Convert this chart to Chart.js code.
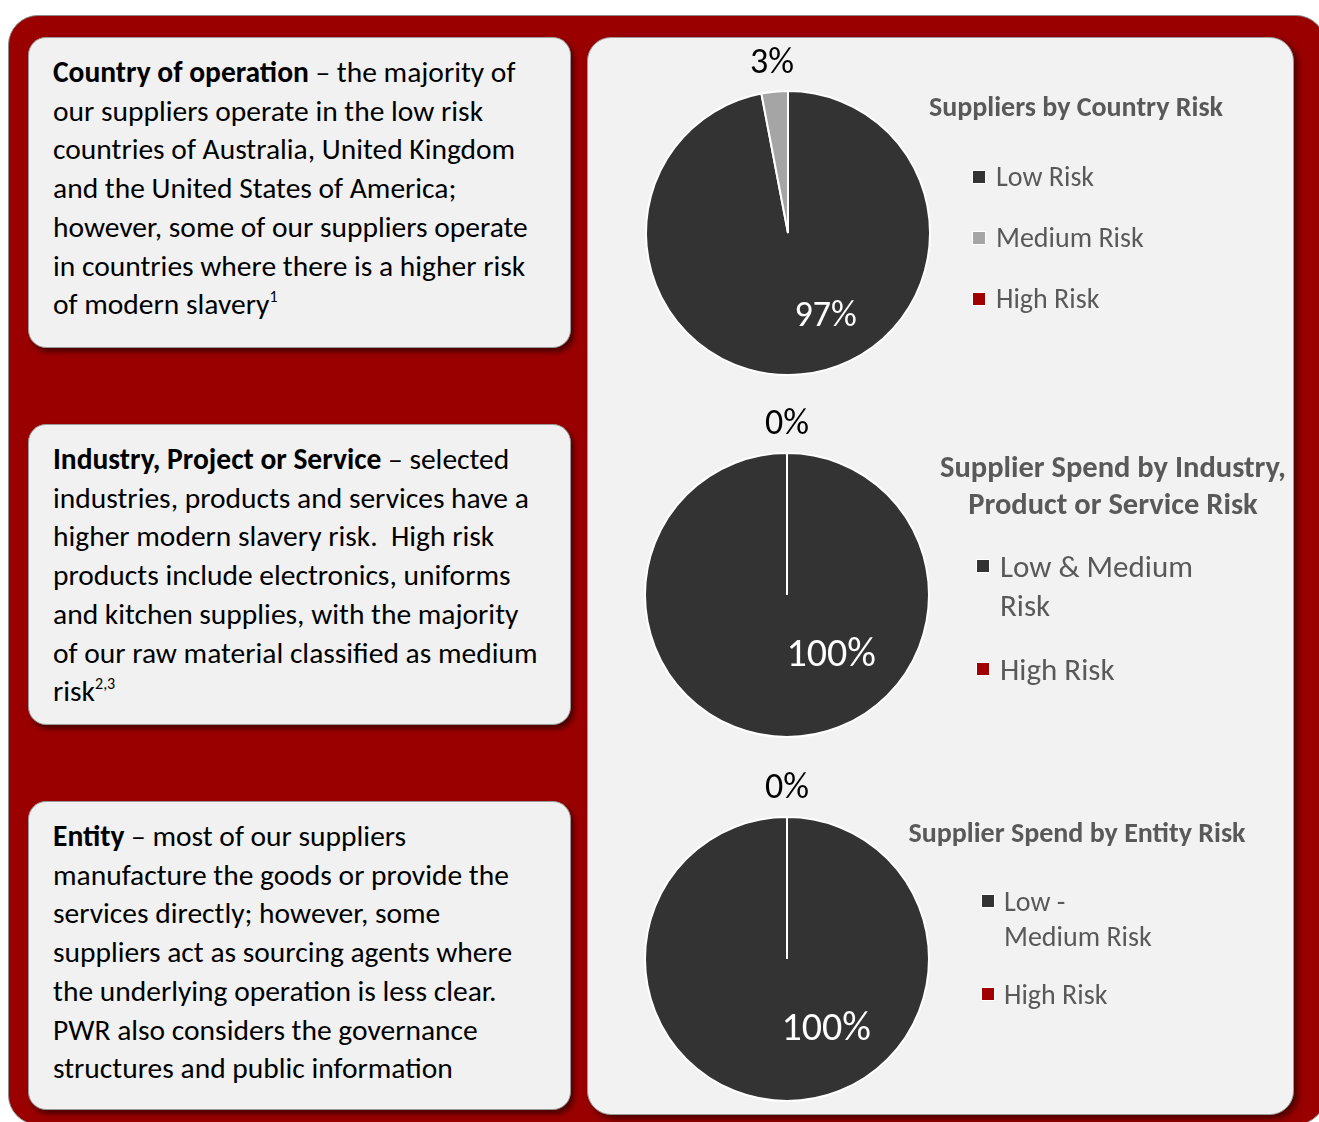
<!DOCTYPE html>
<html>
<head>
<meta charset="utf-8">
<script src="https://cdn.jsdelivr.net/npm/chart.js@4.4.1/dist/chart.umd.min.js"></script>
<style>
html,body{margin:0;padding:0;background:#fff}
#page{position:relative;width:1319px;height:1122px;overflow:hidden;font-family:Calibri,Carlito,Lato,sans-serif}
#frame{position:absolute;left:8px;top:15px;width:1318px;height:1110px;background:#9a0000;border:1px solid #8a8a8a;border-radius:30px;box-sizing:border-box}
.box{position:absolute;left:28px;width:543px;background:#f1f1f1;border:1px solid #9a9a9a;border-radius:18px;box-sizing:border-box;
 box-shadow:3px 4px 5px rgba(50,0,0,.75);padding:15px 0 0 24px;font-size:29.5px;line-height:38.7px;color:#000;white-space:nowrap}
.box b{font-weight:700}
.box sup{font-size:16px;line-height:0;vertical-align:12px}
#panel{position:absolute;left:587px;top:37px;width:707px;height:1078px;background:#f2f2f2;border:1px solid #9a9a9a;border-radius:24px;box-sizing:border-box;
 box-shadow:4px 4px 6px rgba(50,0,0,.75)}
canvas.pie{position:absolute}
.legend{position:absolute;color:#595959}
.legend .title{font-weight:700;text-align:center}
.legend .item{display:flex;align-items:flex-start}
.legend .mark{flex:none;width:12px;height:12px;border:1px solid #fff;box-sizing:content-box}
.legend .txt{white-space:normal}
</style>
</head>
<body>
<div id="page">
<div id="frame"></div>

<div class="box" style="top:37px;height:311px"><b>Country of operation</b> – the majority of<br>our suppliers operate in the low risk<br>countries of Australia, United Kingdom<br>and the United States of America;<br>however, some of our suppliers operate<br>in countries where there is a higher risk<br>of modern slavery<sup>1</sup></div>

<div class="box" style="top:424px;height:301px"><b>Industry, Project or Service</b> – selected<br>industries, products and services have a<br>higher modern slavery risk.&nbsp; High risk<br>products include electronics, uniforms<br>and kitchen supplies, with the majority<br>of our raw material classified as medium<br>risk<sup>2,3</sup></div>

<div class="box" style="top:801px;height:309px"><b>Entity</b> – most of our suppliers<br>manufacture the goods or provide the<br>services directly; however, some<br>suppliers act as sourcing agents where<br>the underlying operation is less clear.<br>PWR also considers the governance<br>structures and public information</div>

<div id="panel"></div>

<canvas class="pie" id="pie1" width="400" height="400" style="left:588px;top:33px"></canvas>
<canvas class="pie" id="pie2" width="400" height="400" style="left:587px;top:395px"></canvas>
<canvas class="pie" id="pie3" width="400" height="400" style="left:587px;top:759px"></canvas>

<div class="legend" id="leg1"></div>
<div class="legend" id="leg2"></div>
<div class="legend" id="leg3"></div>
</div>

<script>
// chart data
const title1='Suppliers by Country Risk'
const categories1=['Low Risk','Medium Risk','High Risk']
const values1=[97,3,0]
const colours1=['#333333','#a5a5a5','#a00000']

const title2='Supplier Spend by Industry, Product or Service Risk'
const categories2=['Low & Medium Risk','High Risk']
const values2=[100,0]
const colours2=['#333333','#a00000']

const title3='Supplier Spend by Entity Risk'
const categories3=['Low - Medium Risk','High Risk']
const values3=[100,0]
const colours3=['#333333','#a00000']

// percentage labels on the slices
const pieLabels={
id:'pieLabels',
afterDatasetsDraw(chart,args,opts){
const ctx=chart.ctx
const data=chart.data.datasets[0].data
const total=data.reduce((a,b)=>a+b,0)
const meta=chart.getDatasetMeta(0)
meta.data.forEach((arc,i)=>{
let v=data[i]
if(v===0 && !opts.showZero) return
let p=arc.getProps(['x','y','startAngle','endAngle','outerRadius'],true)
let txt=Math.round(v/total*100)+'%'
let lx,ly
ctx.save()
if(v/total>0.5){
let a=-Math.PI/2+opts.insideAngle*Math.PI/180
lx=p.x+Math.cos(a)*p.outerRadius*opts.insideDist
ly=p.y+Math.sin(a)*p.outerRadius*opts.insideDist
ctx.fillStyle='#ffffff'
ctx.font=opts.insideSize+'px Calibri, Carlito, Lato, sans-serif'
}else{
let mid=(p.startAngle+p.endAngle)/2
lx=p.x+Math.cos(mid)*(p.outerRadius+28)
ly=p.y+Math.sin(mid)*(p.outerRadius+28)
ctx.fillStyle='#000000'
ctx.font='36px Calibri, Carlito, Lato, sans-serif'
}
ctx.textAlign='center'
ctx.textBaseline='middle'
ctx.fillText(txt,lx,ly)
ctx.restore()
})
}
}

function makePie(id,labels,values,colours,lab){
return new Chart(document.getElementById(id),{
type:'pie',
data:{
labels:labels,
datasets:[{
data:values,
backgroundColor:colours,
borderColor:'#ffffff',
borderWidth:2
}]
},
options:{
responsive:false,
animation:false,
layout:{padding:57},
plugins:{
legend:{display:false},
tooltip:{enabled:false},
pieLabels:lab
}
},
plugins:[pieLabels]
})
}

// html legend built from the chart's own labels and colours
function makeLegend(id,chart,title,st){
const el=document.getElementById(id)
el.style.left=st.left+'px'
el.style.top=st.top+'px'
let h='<div class="title" style="width:'+st.titleWidth+'px;font-size:'+st.titleSize+'px;line-height:'+st.titleLine+'px">'+title+'</div>'
h+='<div style="margin-left:'+st.itemLeft+'px;margin-top:'+st.itemTop+'px">'
const ds=chart.data.datasets[0]
chart.data.labels.forEach((lab,i)=>{
h+='<div class="item" style="font-size:'+st.itemSize+'px;line-height:'+st.itemLine+'px;margin-bottom:'+st.itemGap+'px">'
h+='<span class="mark" style="background:'+ds.backgroundColor[i]+';margin-top:'+((st.itemLine-14)/2)+'px"></span>'
h+='<span class="txt" style="margin-left:'+st.markGap+'px;width:'+st.textWidth+'px">'+lab.replace('&','&amp;')+'</span></div>'
})
h+='</div>'
el.innerHTML=h
}

const c1=makePie('pie1',categories1,values1,colours1,{showZero:false,insideAngle:156,insideDist:0.65,insideSize:36})
const c2=makePie('pie2',categories2,values2,colours2,{showZero:true,insideAngle:144,insideDist:0.53,insideSize:40})
const c3=makePie('pie3',categories3,values3,colours3,{showZero:true,insideAngle:151,insideDist:0.57,insideSize:40})

makeLegend('leg1',c1,title1,{left:900,top:90,titleWidth:352,titleSize:28,titleLine:34,itemLeft:72,itemTop:36,itemSize:28,itemLine:34,itemGap:27,markGap:10,textWidth:240})
makeLegend('leg2',c2,title2,{left:925,top:447.5,titleWidth:376,titleSize:30.5,titleLine:37,itemLeft:51,itemTop:25,itemSize:31,itemLine:39,itemGap:25,markGap:10,textWidth:205})
makeLegend('leg3',c3,title3,{left:897,top:816,titleWidth:360,titleSize:28,titleLine:34,itemLeft:84,itemTop:33.5,itemSize:28,itemLine:35,itemGap:23,markGap:9,textWidth:155})
</script>
</body>
</html>
